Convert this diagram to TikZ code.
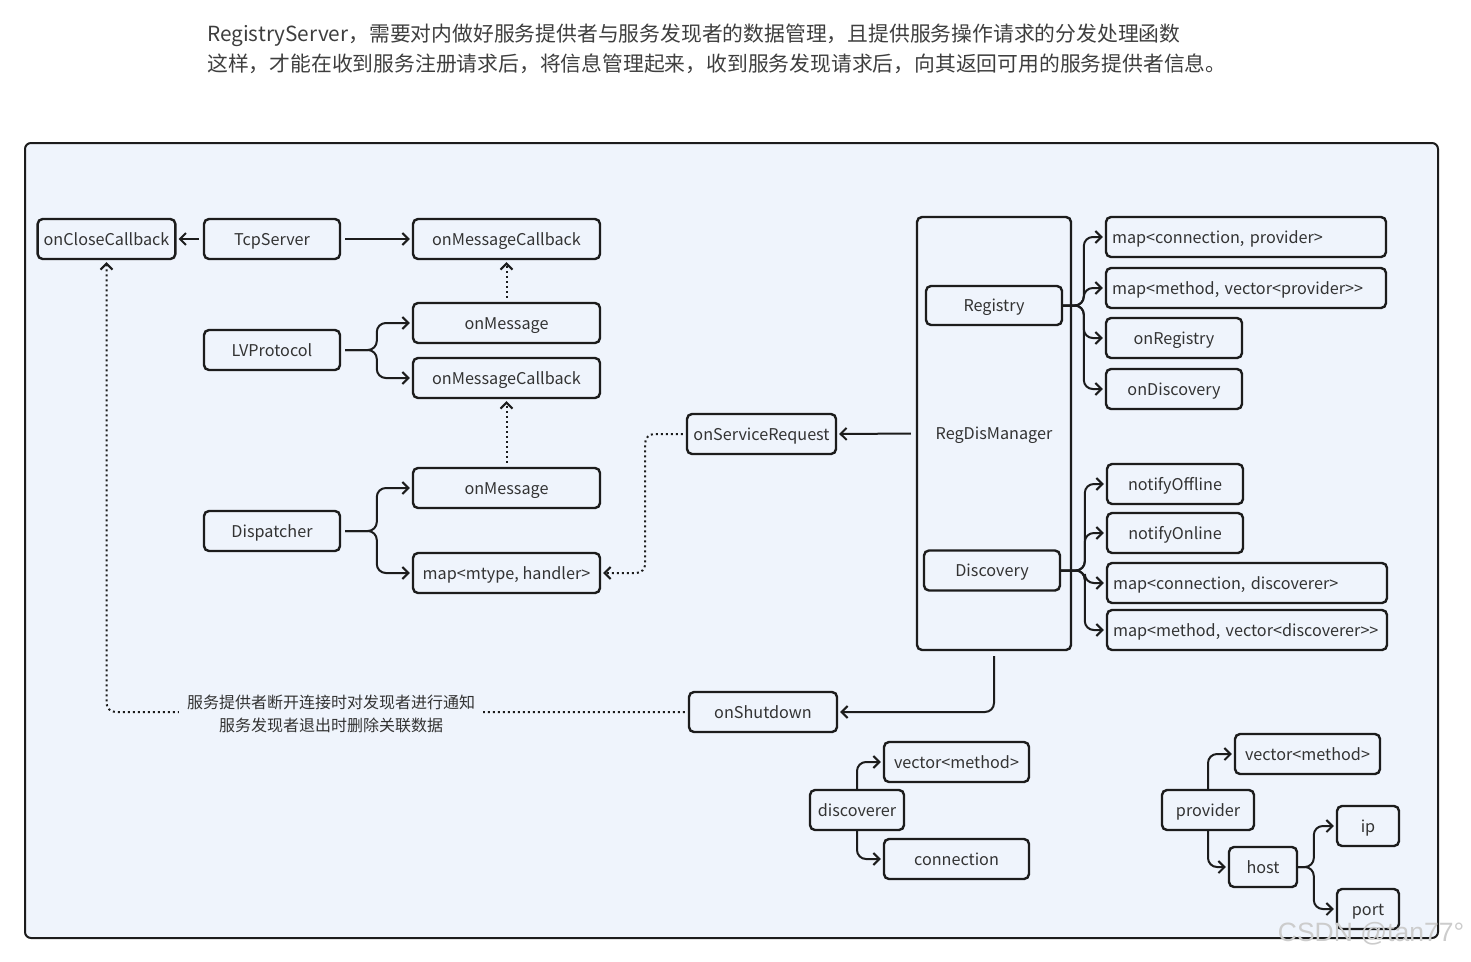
\documentclass[tikz,border=0pt]{standalone}
\usepackage{fontspec}
\setmainfont{Noto Sans CJK SC}[Ligatures=TeXOff]
\newfontfamily\markfont{Liberation Sans}
\usepackage{tikz}
\usetikzlibrary{arrows.meta, calc}
\definecolor{panel}{RGB}{239,244,252}
\definecolor{ink}{RGB}{28,28,28}

\begin{document}
\begin{tikzpicture}[x=1pt, y=-1pt, >={Straight Barb[length=6pt, width=12pt]},
    box/.style={draw=ink, line width=2.4pt, rounded corners=5pt, minimum width=#1,
        minimum height=40pt, inner xsep=6pt, inner ysep=0pt, text height=16pt, text depth=3.5pt,
        font=\fontsize{16.2}{19}\selectfont, text=ink!90},
    box/.default=136pt,
    mapbox/.style={box=280pt, text width=268pt, align=left},
    conn/.style={->, line width=2pt, draw=ink, rounded corners=9pt, shorten >=2pt},
    link/.style={->, line width=2pt, draw=ink, dash pattern=on 2pt off 3pt,
        rounded corners=9pt, shorten >=2pt}]
    \useasboundingbox (0,0) rectangle (1471,961);
    % Intro text
    \node[anchor=west, align=left, inner sep=0pt, text=ink!85,
        font=\fontsize{20.8}{30}\selectfont] (intro) at (207,49)
        {RegistryServer，需要对内做好服务提供者与服务发现者的数据管理，且提供服务操作请求的分发处理函数\\
         这样，才能在收到服务注册请求后，将信息管理起来，收到服务发现请求后，向其返回可用的服务提供者信息。};
    % Panel
    \draw[line width=2pt, draw=ink, rounded corners=6pt, fill=panel] (25,143) rectangle (1438,938);
    % Network side
    \node[box=137pt] (occ) at (106.5,239) {onCloseCallback};
    \node[box] (tcp) at (272,239) {TcpServer};
    \node[box=187pt] (omc1) at (506.5,239) {onMessageCallback};
    \node[box=187pt] (om1) at (506.5,323) {onMessage};
    \node[box] (lvp) at (272,350) {LVProtocol};
    \node[box=187pt] (omc2) at (506.5,378) {onMessageCallback};
    \node[box=187pt] (om2) at (506.5,488) {onMessage};
    \node[box] (disp) at (272,531) {Dispatcher};
    \node[box=187pt] (mth) at (506.5,573) {map<mtype, handler>};
    % Manager side
    \node[box=149pt] (osr) at (761.5,434) {onServiceRequest};
    \node[box=154pt, minimum height=433pt] (rdm) at (994,433.5) {RegDisManager};
    \node[box, minimum height=39pt] (reg) at (994,305.5) {Registry};
    \node[box] (dis) at (992,570.5) {Discovery};
    \node[mapbox] (mcp) at (1246,237) {map<connection, provider>};
    \node[mapbox] (mmvp) at (1246,288) {map<method, vector<provider>>};
    \node[box] (onreg) at (1174,338) {onRegistry};
    \node[box] (ondis) at (1174,389) {onDiscovery};
    \node[box] (noff) at (1175,484) {notifyOffline};
    \node[box] (non) at (1175,533) {notifyOnline};
    \node[mapbox] (mcd) at (1247,583) {map<connection, discoverer>};
    \node[mapbox] (mmvd) at (1247,630) {map<method, vector<discoverer>>};
    % Bottom
    \node[box=148pt] (shut) at (763,712) {onShutdown};
    \node[box=145pt] (vml) at (956.5,762) {vector<method>};
    \node[box=94pt] (disc) at (857,810) {discoverer};
    \node[box=145pt] (cnx) at (956.5,859) {connection};
    \node[box=145pt] (vmr) at (1307.5,754) {vector<method>};
    \node[box=92pt] (prov) at (1208,810) {provider};
    \node[box=68pt] (host) at (1263,867) {host};
    \node[box=62pt] (ip) at (1368,826) {ip};
    \node[box=62pt] (port) at (1368,909) {port};
    % Connectors
    \draw[conn, shorten <=4pt] (tcp.west) -- (occ.east);
    \draw[conn, shorten <=4pt] (tcp.east) -- (omc1.west);
    \draw[link, shorten <=4pt] (om1.north) -- (omc1.south);
    \draw[link, shorten <=4pt] (om2.north) -- (omc2.south);
    \foreach \t in {om1, omc2}
        \draw[conn, shorten <=4pt] (lvp.east) -| ([xshift=-35pt]\t.west) -- (\t.west);
    \foreach \t in {om2, mth}
        \draw[conn, shorten <=4pt] (disp.east) -| ([xshift=-35pt]\t.west) -- (\t.west);
    \draw[link, shorten <=3pt] (osr.west) -| ([xshift=44pt]mth.east) -- (mth.east);
    \draw[conn, shorten <=5pt] (rdm.west) -- (osr.east);
    \foreach \t in {mcp, mmvp, onreg, ondis}
        \draw[conn] (reg.east) -| ([xshift=-21pt]\t.west) -- (\t.west);
    \foreach \t in {noff, non, mcd, mmvd}
        \draw[conn] (dis.east) -| ([xshift=-21pt]\t.west) -- (\t.west);
    \draw[conn] ([yshift=-5pt]rdm.south) |- (shut.east);
    \draw[link, shorten <=3pt] (shut.west) -| (occ.south);
    \node[fill=panel, align=center, inner xsep=8pt, text=ink!90,
        font=\fontsize{16}{23}\selectfont] (note) at (331,714)
        {服务提供者断开连接时对发现者进行通知\\服务发现者退出时删除关联数据};
    \draw[conn] (disc.north) |- (vml.west);
    \draw[conn] (disc.south) |- (cnx.west);
    \draw[conn] (prov.north) |- (vmr.west);
    \draw[conn] (prov.south) |- (host.west);
    \foreach \t in {ip, port}
        \draw[conn] (host.east) -| ([xshift=-22pt]\t.west) -- (\t.west);
    % Watermark text
    \node[font=\markfont\fontsize{26.5}{26.5}\selectfont, text=gray!40] (mark) at (1371,934) {CSDN @tan77°};
\end{tikzpicture}
\end{document}
